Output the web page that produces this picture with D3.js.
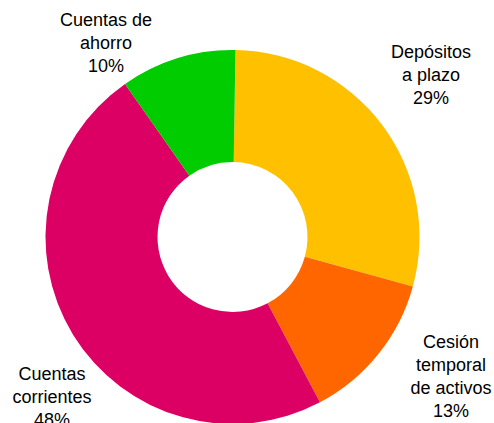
<!DOCTYPE html>
<html><head><meta charset="utf-8">
<script src="https://cdn.jsdelivr.net/npm/d3@7"></script>
<style>body{margin:0;background:#fff}svg{display:block}</style>
</head><body>
<svg id="c" width="494" height="423"></svg>
<script>
const categories = ["Depósitos a plazo", "Cesión temporal de activos", "Cuentas corrientes", "Cuentas de ahorro"];
const values = [29, 13, 48, 10];
const colors = ["#FFC000", "#FF6600", "#DC0064", "#00CC00"];
const labelLines = [["Depósitos", "a plazo"], ["Cesión", "temporal", "de activos"], ["Cuentas", "corrientes"], ["Cuentas de", "ahorro"]];
const labelPos = [[431, 58], [451, 348], [52, 380], [106, 26]];

const svg = d3.select("#c");
const cx = 232.5, cy = 237, R = 187, r = 75;
const rot = 0.016;
const g = svg.append("g").attr("transform", `translate(${cx},${cy})`);
const data = categories.map((c, i) => ({c, v: values[i], i}));
const pie = d3.pie().value(d => d.v).sort(null).startAngle(rot).endAngle(2 * Math.PI + rot);
const arc = d3.arc().innerRadius(r).outerRadius(R);
g.selectAll("path").data(pie(data)).join("path")
  .attr("d", arc).attr("fill", d => colors[d.data.i]);

const total = d3.sum(values);
data.forEach((d, i) => {
  const lines = labelLines[i].concat([Math.round(d.v / total * 100) + "%"]);
  const t = svg.append("text")
    .attr("x", labelPos[i][0]).attr("y", labelPos[i][1])
    .attr("text-anchor", "middle")
    .attr("font-family", "Liberation Sans, Arial, sans-serif")
    .attr("font-size", 18).attr("fill", "#000");
  lines.forEach((l, k) => t.append("tspan").attr("x", labelPos[i][0]).attr("dy", k ? 23 : 0).text(l));
});
</script>
</body></html>
